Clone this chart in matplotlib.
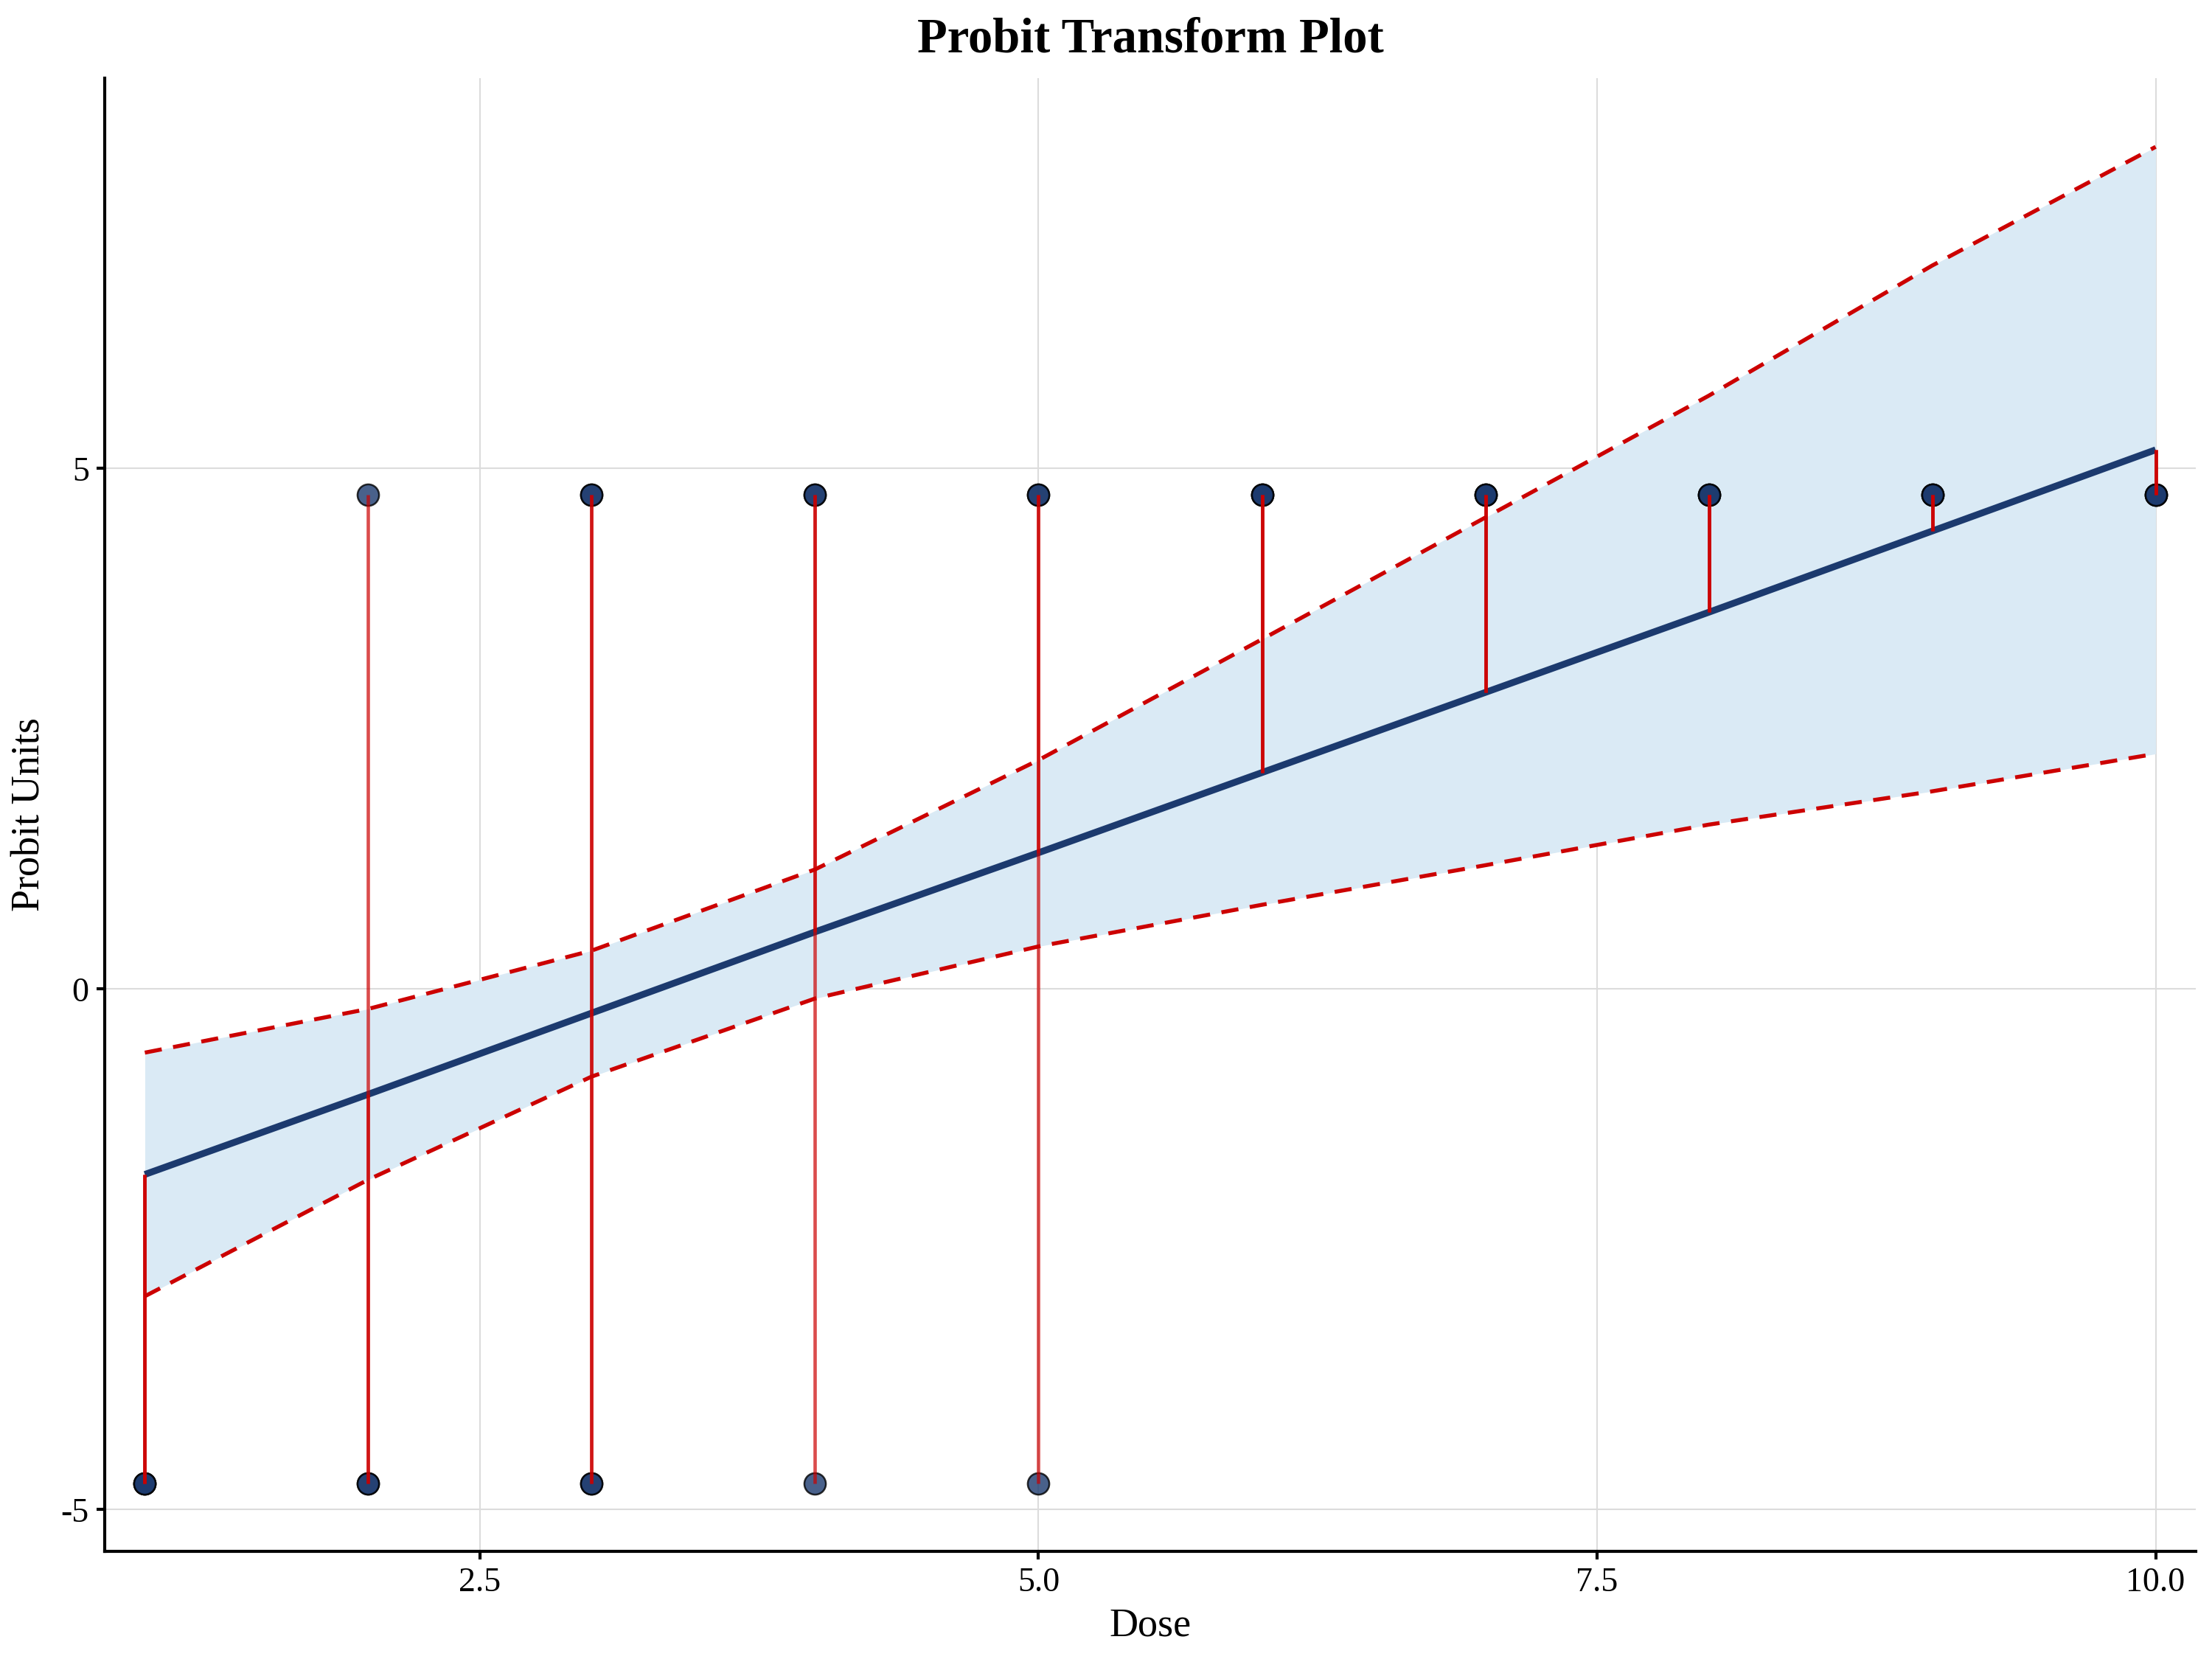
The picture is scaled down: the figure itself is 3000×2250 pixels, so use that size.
"""
Probit transform plot: observed probits per dose with fitted line and band.
"""

import numpy as np
import matplotlib.pyplot as plt

plt.rcParams["font.family"] = ["Liberation Serif", "DejaVu Serif"]

# dose levels and counts of responders / non-responders at each dose
doses = [1, 2, 3, 4, 5, 6, 7, 8, 9, 10]
n_pos = [0, 1, 2, 2, 2, 3, 3, 3, 3, 3]
n_neg = [3, 2, 2, 1, 1, 0, 0, 0, 0, 0]

# clipped empirical probits for 0 / 1 responses
probit_pos = 4.75
probit_neg = -4.75

# fitted probit line and confidence band, read at each dose
fitted = [-1.78, -1.01, -0.23, 0.55, 1.31, 2.08, 2.85, 3.62, 4.40, 5.18]
upper = [-0.61, -0.19, 0.37, 1.15, 2.20, 3.36, 4.53, 5.70, 6.95, 8.09]
lower = [-2.95, -1.83, -0.84, -0.09, 0.41, 0.81, 1.19, 1.58, 1.90, 2.26]

navy = "#1c3a6e"
red = "#cc0000"

fig = plt.figure(figsize=(10, 7.5), dpi=300)
ax = fig.add_axes([0.0473, 0.0649, 0.9454, 0.888])

ax.fill_between(doses, lower, upper, color="#daeaf5", lw=0, zorder=1)
ax.plot(doses, upper, color=red, lw=1.3, ls=(0, (4.3, 2.9)), zorder=2)
ax.plot(doses, lower, color=red, lw=1.3, ls=(0, (4.3, 2.9)), zorder=2)
ax.plot(doses, fitted, color=navy, lw=2.2, zorder=3, solid_capstyle="butt")

for d, fit, npos, nneg in zip(doses, fitted, n_pos, n_neg):
    for _ in range(npos):
        ax.plot([d], [probit_pos], "o", ms=7, mfc=navy, mec="black",
                mew=0.6, alpha=0.8, zorder=4)
        ax.plot([d, d], [probit_pos, fit], color=red, lw=1.1,
                alpha=0.7, zorder=5, solid_capstyle="butt")
    for _ in range(nneg):
        ax.plot([d], [probit_neg], "o", ms=7, mfc=navy, mec="black",
                mew=0.6, alpha=0.8, zorder=4)
        ax.plot([d, d], [probit_neg, fit], color=red, lw=1.1,
                alpha=0.7, zorder=5, solid_capstyle="butt")

ax.set_xlim(0.82, 10.18)
ax.set_ylim(-5.4, 8.75)
ax.set_xticks([2.5, 5.0, 7.5, 10.0])
ax.set_xticklabels(["2.5", "5.0", "7.5", "10.0"])
ax.set_yticks([-5, 0, 5])
ax.set_yticklabels(["-5", "0", "5"])

ax.grid(True, color="#dcdcdc", lw=0.5)
ax.set_axisbelow(True)
for side in ["top", "right"]:
    ax.spines[side].set_visible(False)
for side in ["left", "bottom"]:
    ax.spines[side].set_linewidth(1.0)
ax.tick_params(length=2.6, width=1.0, labelsize=11, pad=2.5)

ax.set_xlabel("Dose", fontsize=13, labelpad=3)
ax.set_ylabel("Probit Units", fontsize=13, labelpad=4)
ax.set_title("Probit Transform Plot", fontsize=16, fontweight="bold", pad=8.5)

plt.savefig("out.png")
